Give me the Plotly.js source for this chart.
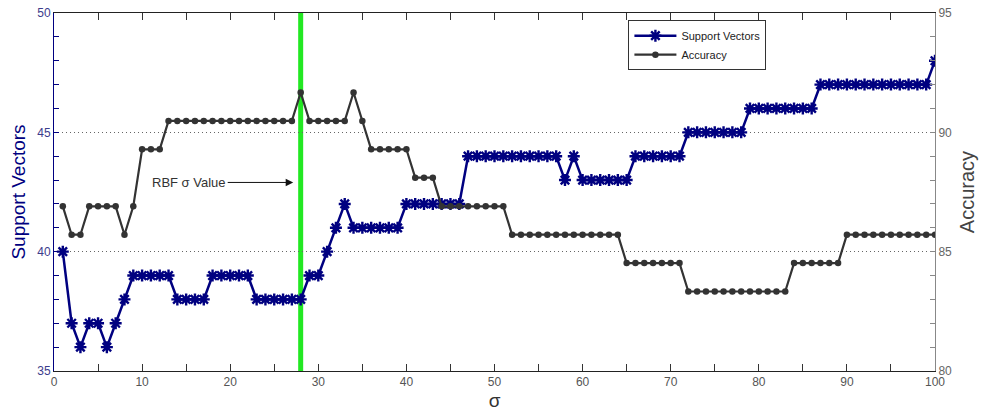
<!DOCTYPE html>
<html>
<head>
<meta charset="utf-8">
<script src="https://cdn.plot.ly/plotly-3.0.1.min.js"></script>
<style>
  html, body { margin: 0; padding: 0; background: #ffffff; }
  #chart { width: 981px; height: 411px; }
</style>
</head>
<body>
<div id="chart"></div>
<script>
// ---- data ----
const sigma = [1,2,3,4,5,6,7,8,9,10,11,12,13,14,15,16,17,18,19,20,
  21,22,23,24,25,26,27,28,29,30,31,32,33,34,35,36,37,38,39,40,
  41,42,43,44,45,46,47,48,49,50,51,52,53,54,55,56,57,58,59,60,
  61,62,63,64,65,66,67,68,69,70,71,72,73,74,75,76,77,78,79,80,
  81,82,83,84,85,86,87,88,89,90,91,92,93,94,95,96,97,98,99,100];

const supportVectors = [40,37,36,37,37,36,37,38,39,39,
  39,39,39,38,38,38,38,39,39,39,
  39,39,38,38,38,38,38,38,39,39,
  40,41,42,41,41,41,41,41,41,42,
  42,42,42,42,42,42,44,44,44,44,
  44,44,44,44,44,44,44,43,44,43,
  43,43,43,43,43,44,44,44,44,44,
  44,45,45,45,45,45,45,45,46,46,
  46,46,46,46,46,46,47,47,47,47,
  47,47,47,47,47,47,47,47,47,48];

const accuracy = [86.90,85.71,85.71,86.90,86.90,86.90,86.90,85.71,86.90,89.29,
  89.29,89.29,90.48,90.48,90.48,90.48,90.48,90.48,90.48,90.48,
  90.48,90.48,90.48,90.48,90.48,90.48,90.48,91.67,90.48,90.48,
  90.48,90.48,90.48,91.67,90.48,89.29,89.29,89.29,89.29,89.29,
  88.10,88.10,88.10,86.90,86.90,86.90,86.90,86.90,86.90,86.90,
  86.90,85.71,85.71,85.71,85.71,85.71,85.71,85.71,85.71,85.71,
  85.71,85.71,85.71,85.71,84.52,84.52,84.52,84.52,84.52,84.52,
  84.52,83.33,83.33,83.33,83.33,83.33,83.33,83.33,83.33,83.33,
  83.33,83.33,83.33,84.52,84.52,84.52,84.52,84.52,84.52,85.71,
  85.71,85.71,85.71,85.71,85.71,85.71,85.71,85.71,85.71,85.71];

const rbfSigma = 28;
const seriesNames = ["Support Vectors", "Accuracy"];
const annotationText = "RBF σ Value";
const annotationY = 42.9;

// ---- styling ----
const FONT = "Arial, 'Liberation Sans', sans-serif";
const NAVY = "#000080";
const DARK = "#333333";

const traces = [
  {
    x: sigma, y: supportVectors, name: seriesNames[0],
    type: "scatter", mode: "lines+markers", yaxis: "y",
    line: { color: NAVY, width: 2.5 },
    marker: { symbol: "asterisk-open", size: 10, color: NAVY, line: { color: NAVY, width: 2.4 } }
  },
  {
    x: sigma, y: accuracy, name: seriesNames[1],
    type: "scatter", mode: "lines+markers", yaxis: "y2",
    line: { color: DARK, width: 2.2 },
    marker: { symbol: "circle", size: 6.5, color: DARK }
  }
];

const layout = {
  width: 981, height: 411,
  margin: { l: 54, r: 46, t: 13, b: 40, pad: 0 },
  paper_bgcolor: "#ffffff", plot_bgcolor: "#ffffff",
  font: { family: FONT, size: 12, color: "#444" },
  showlegend: true,
  legend: {
    x: 0.652, y: 0.98, xanchor: "left", yanchor: "top",
    bgcolor: "#ffffff", bordercolor: "#333", borderwidth: 1,
    font: { family: FONT, size: 11, color: "#222" },
    itemwidth: 42,
    tracegroupgap: 0
  },
  xaxis: {
    range: [0, 100], tick0: 0, dtick: 10,
    ticks: "inside", ticklen: 7, tickcolor: "#333", tickwidth: 1,
    minor: { dtick: 5, ticks: "inside", ticklen: 7, tickcolor: "#333", showgrid: false },
    showline: true, linecolor: "#222", linewidth: 1, mirror: "ticks",
    showgrid: false, zeroline: false,
    tickfont: { family: FONT, size: 12, color: "#555" },
    title: { text: "σ", font: { family: FONT, size: 19, color: "#333" }, standoff: 6 }
  },
  yaxis: {
    range: [35, 50], tick0: 35, dtick: 5,
    ticks: "inside", ticklen: 5, tickcolor: NAVY, tickwidth: 1,
    minor: { dtick: 1, ticks: "inside", ticklen: 5, tickcolor: NAVY, showgrid: false },
    showline: true, linecolor: NAVY, linewidth: 1,
    showgrid: true, gridcolor: "#666", griddash: "1px,3px", gridwidth: 1,
    zeroline: false,
    tickfont: { family: FONT, size: 12, color: "#3c3c8c" },
    title: { text: "Support Vectors", font: { family: FONT, size: 19, color: NAVY }, standoff: 6 }
  },
  yaxis2: {
    range: [80, 95], tick0: 80, dtick: 5,
    overlaying: "y", side: "right", anchor: "x",
    ticks: "inside", ticklen: 5, tickcolor: "#888", tickwidth: 1,
    minor: { dtick: 1, ticks: "inside", ticklen: 5, tickcolor: "#888", showgrid: false },
    showline: true, linecolor: "#888", linewidth: 1,
    showgrid: false, zeroline: false,
    tickfont: { family: FONT, size: 12, color: "#666" },
    title: { text: "Accuracy", font: { family: FONT, size: 20, color: "#444" }, standoff: 8 }
  },
  shapes: [
    {
      type: "line", xref: "x", yref: "paper",
      x0: rbfSigma, x1: rbfSigma, y0: 0, y1: 1,
      line: { color: "#22e822", width: 5 }, layer: "below"
    }
  ],
  annotations: [
    {
      x: 27.15, y: annotationY, xref: "x", yref: "y",
      text: annotationText, showarrow: true,
      ax: -104, ay: 0,
      arrowhead: 2, arrowsize: 1.5, arrowwidth: 1, arrowcolor: "#111",
      font: { family: FONT, size: 13, color: "#333" }
    }
  ]
};

Plotly.newPlot("chart", traces, layout, { displayModeBar: false, staticPlot: true });
</script>
</body>
</html>
